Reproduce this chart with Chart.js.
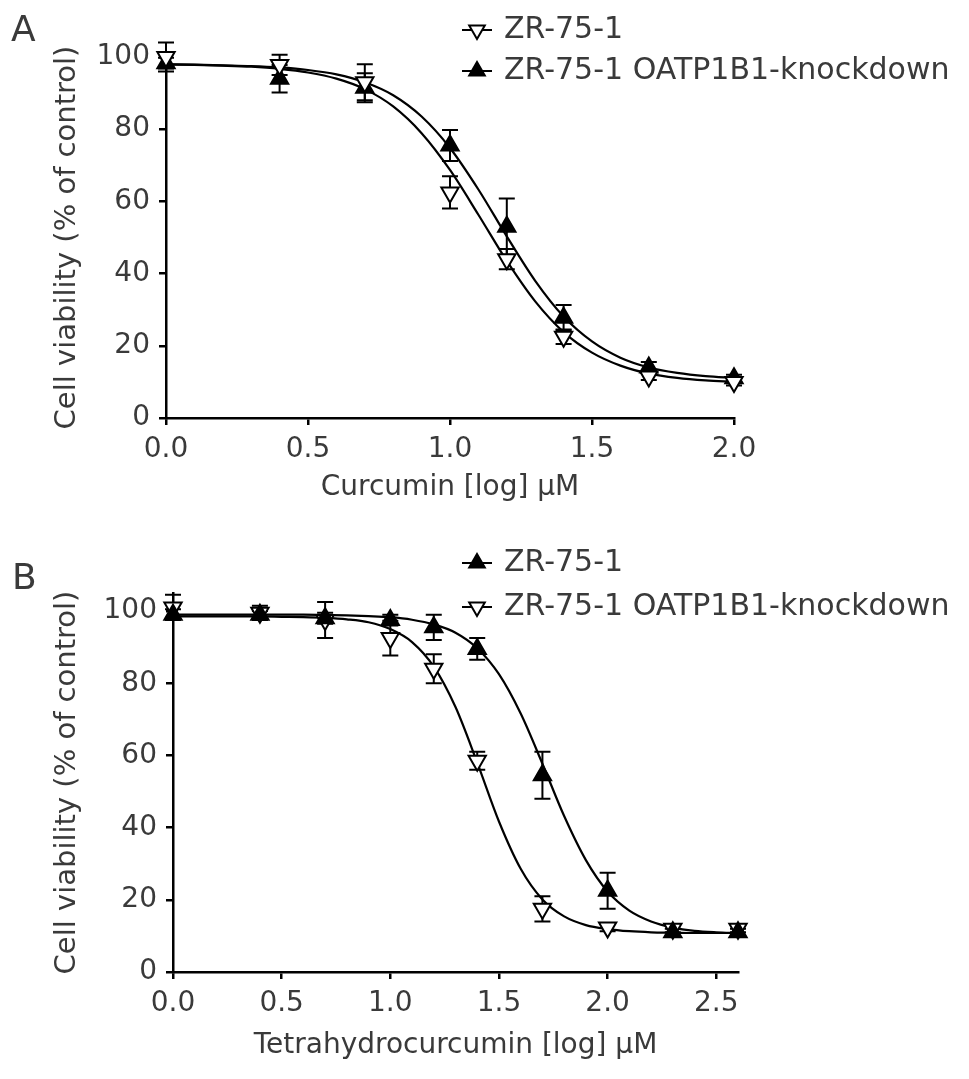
<!DOCTYPE html>
<html>
<head>
<meta charset="utf-8">
<script src="https://cdn.jsdelivr.net/npm/chart.js@4.4.1/dist/chart.umd.min.js"></script>
<style>
  html, body { margin: 0; padding: 0; background: #fff; }
  #wrap { position: relative; width: 969px; height: 1079px; }
  canvas { position: absolute; left: 0; }
  #panelA { top: 0; }
  #panelB { top: 530px; }
</style>
</head>
<body>
<div id="wrap">
  <canvas id="panelA" width="969" height="530"></canvas>
  <canvas id="panelB" width="969" height="549"></canvas>
</div>
<script>
// ---- Panel A: curcumin ----
const doseA = [0, 0.4, 0.7, 1.0, 1.2, 1.4, 1.7, 2.0];
const zrA = [100, 97.8, 93, 62.5, 44, 22.5, 11.5, 10];
const zrErrA = [4, 2.8, 5, 4.5, 2.8, 2, 1, 1];
const kdA = [98.3, 94, 91.5, 75.5, 53, 27.8, 14, 11];
const kdErrA = [1.5, 3.8, 4, 4.3, 7.8, 3.5, 1.5, 1];

// fitted curves, every 0.1 log units
const fitDoseA = [0.0, 0.1, 0.2, 0.3, 0.4, 0.5, 0.6, 0.7, 0.8, 0.9, 1.0,
                  1.1, 1.2, 1.3, 1.4, 1.5, 1.6, 1.7, 1.8, 1.9, 2.0];
const zrFitA = [97.9, 97.8, 97.6, 97.3, 96.7, 95.7, 94.0, 91.1, 86.3, 78.9, 68.7,
                56.3, 43.5, 32.3, 23.8, 18.1, 14.5, 12.3, 11.1, 10.4, 10.0];
const kdFitA = [98.0, 97.9, 97.7, 97.5, 97.1, 96.4, 95.2, 93.0, 89.4, 83.5, 74.8,
                63.3, 50.3, 38.0, 28.1, 21.2, 16.7, 14.0, 12.5, 11.6, 11.1];

// ---- Panel B: tetrahydrocurcumin ----
const doseB = [0, 0.4, 0.7, 1.0, 1.2, 1.4, 1.7, 2.0, 2.3, 2.6];
const zrB = [99, 99, 98, 97.5, 95.5, 89.5, 54.5, 22.5, 11, 11];
const zrErrB = [1.5, 1, 1.5, 1.5, 3.5, 3, 6.5, 5, 1, 1];
const kdB = [101, 99.5, 97.5, 92.5, 84, 58.5, 17.5, 12.3, 12, 12];
const kdErrB = [3.5, 2, 5, 4.8, 4, 2.5, 3.5, 1, 1, 1];

const fitDoseB = [0.0, 0.1, 0.2, 0.3, 0.4, 0.5, 0.6, 0.7, 0.8, 0.9, 1.0, 1.1, 1.2, 1.3,
                  1.4, 1.5, 1.6, 1.7, 1.8, 1.9, 2.0, 2.1, 2.2, 2.3, 2.4, 2.5, 2.6];
const zrFitB = [99.0, 99.0, 99.0, 99.0, 99.0, 99.0, 99.0, 98.9, 98.8, 98.6, 98.3, 97.6, 96.3, 94.0,
                89.7, 82.5, 71.6, 57.7, 43.2, 31.0, 22.3, 17.0, 14.0, 12.3, 11.4, 11.0, 10.8];
const kdFitB = [98.5, 98.5, 98.5, 98.5, 98.5, 98.4, 98.3, 98.1, 97.7, 96.9, 95.0, 91.4, 84.6, 73.4,
                58.0, 41.7, 28.6, 20.1, 15.4, 13.0, 11.9, 11.3, 11.0, 10.9, 10.8, 10.8, 10.8];

// ---- ticks ----
const yTicks = [0, 20, 40, 60, 80, 100];
const xTicksA = [0, 0.5, 1.0, 1.5, 2.0];
const xTicksB = [0, 0.5, 1.0, 1.5, 2.0, 2.5];

const BLACK = '#000';
const TEXT = '#3a3a3a';
const FONT = "'DejaVu Sans', sans-serif";

Chart.defaults.font.family = FONT;
Chart.defaults.font.size = 28;
Chart.defaults.color = TEXT;

const openDown = { pointStyle: 'triangle', rotation: 180, fill: '#fff' };
const filledUp = { pointStyle: 'triangle', rotation: 0, fill: '#000' };

function pts(xs, ys) {
    return xs.map((x, i) => ({ x: x, y: ys[i] }));
}

function pointSet(label, xs, ys, errs, style) {
    return {
        label: label,
        data: pts(xs, ys),
        errors: errs,
        showLine: false,
        pointStyle: style.pointStyle,
        pointRotation: style.rotation,
        pointBackgroundColor: style.fill,
        pointBorderColor: BLACK,
        pointBorderWidth: 2,
        pointRadius: 10,
        clip: false,
        order: 0
    };
}

function curveSet(xs, ys) {
    return {
        data: pts(xs, ys),
        showLine: true,
        borderColor: BLACK,
        borderWidth: 2.2,
        pointRadius: 0,
        cubicInterpolationMode: 'monotone',
        fill: false,
        clip: false,
        order: 1
    };
}

// error bars drawn under the markers, through the y scale
const errorBars = {
    id: 'errorBars',
    beforeDatasetsDraw(chart) {
        const ctx = chart.ctx;
        const yScale = chart.scales.y;
        ctx.save();
        ctx.strokeStyle = BLACK;
        ctx.lineWidth = 2;
        chart.data.datasets.forEach((ds, i) => {
            if (!ds.errors) return;
            chart.getDatasetMeta(i).data.forEach((pt, j) => {
                const v = ds.data[j].y;
                const e = ds.errors[j];
                const top = yScale.getPixelForValue(v + e);
                const bot = yScale.getPixelForValue(v - e);
                ctx.beginPath();
                ctx.moveTo(pt.x, top); ctx.lineTo(pt.x, bot);
                ctx.moveTo(pt.x - 8, top); ctx.lineTo(pt.x + 8, top);
                ctx.moveTo(pt.x - 8, bot); ctx.lineTo(pt.x + 8, bot);
                ctx.stroke();
            });
        });
        ctx.restore();
    }
};

// panel letter + legend with the line-through markers
const decorations = {
    id: 'decorations',
    afterDraw(chart, args, opts) {
        const ctx = chart.ctx;
        ctx.save();
        ctx.textAlign = 'left';
        ctx.textBaseline = 'middle';
        ctx.fillStyle = TEXT;
        ctx.font = '36px ' + FONT;
        ctx.fillText(opts.letter, opts.letterX, opts.letterY);

        ctx.font = '30px ' + FONT;
        opts.rows.forEach(r => {
            ctx.strokeStyle = BLACK;
            ctx.lineWidth = 2;
            ctx.beginPath();
            ctx.moveTo(opts.markX - 15, r.y);
            ctx.lineTo(opts.markX + 15, r.y);
            ctx.stroke();
            ctx.fillStyle = r.style.fill;
            Chart.helpers.drawPoint(ctx, {
                pointStyle: r.style.pointStyle,
                rotation: r.style.rotation,
                radius: 9,
                borderWidth: 2
            }, opts.markX, r.y);
            ctx.fillStyle = TEXT;
            ctx.fillText(r.text, opts.textX, r.y);
        });
        ctx.restore();
    }
};

function buildScales(p) {
    return {
        x: {
            type: 'linear',
            min: 0,
            max: p.xMax,
            afterBuildTicks: s => { s.ticks = p.xTicks.map(v => ({ value: v })); },
            afterFit: s => { s.height = p.xAxisH; },
            ticks: { callback: v => Number(v).toFixed(1), padding: 8, maxRotation: 0, autoSkip: false },
            grid: { drawOnChartArea: false, color: BLACK, lineWidth: 2.5, tickLength: 7 },
            border: { color: BLACK, width: 2.5 },
            title: { display: true, text: p.xTitle, padding: { top: 0, bottom: p.xTitlePad } }
        },
        y: {
            type: 'linear',
            min: 0,
            max: p.yMax,
            afterBuildTicks: s => { s.ticks = yTicks.map(v => ({ value: v })); },
            afterFit: s => { s.width = p.yAxisW; },
            ticks: { padding: 9, autoSkip: false },
            grid: { drawOnChartArea: false, color: BLACK, lineWidth: 2.5, tickLength: 7 },
            border: { color: BLACK, width: 2.5 },
            title: { display: true, text: 'Cell viability (% of control)', font: { size: 29 }, padding: { top: 50, bottom: 0 } }
        }
    };
}

function makePanel(id, p) {
    return new Chart(document.getElementById(id), {
        type: 'scatter',
        data: { datasets: p.datasets },
        options: {
            responsive: false,
            animation: false,
            layout: { padding: p.padding },
            scales: buildScales(p),
            plugins: {
                legend: { display: false },
                tooltip: { enabled: false },
                decorations: p.deco
            }
        },
        plugins: [errorBars, decorations]
    });
}

makePanel('panelA', {
    datasets: [
        pointSet('ZR-75-1', doseA, zrA, zrErrA, openDown),
        pointSet('ZR-75-1 OATP1B1-knockdown', doseA, kdA, kdErrA, filledUp),
        curveSet(fitDoseA, zrFitA),
        curveSet(fitDoseA, kdFitA)
    ],
    xMax: 2.0, xTicks: xTicksA, yMax: 100,
    xTitle: 'Curcumin [log] \u03bcM',
    xAxisH: 112, yAxisW: 166, xTitlePad: 25,
    padding: { top: 57, right: 235, left: 0, bottom: 0 },
    deco: {
        letter: 'A', letterX: 11, letterY: 32,
        markX: 477, textX: 504,
        rows: [
            { text: 'ZR-75-1', style: openDown, y: 30 },
            { text: 'ZR-75-1 OATP1B1-knockdown', style: filledUp, y: 71 }
        ]
    }
});

makePanel('panelB', {
    datasets: [
        pointSet('ZR-75-1', doseB, zrB, zrErrB, filledUp),
        pointSet('ZR-75-1 OATP1B1-knockdown', doseB, kdB, kdErrB, openDown),
        curveSet(fitDoseB, zrFitB),
        curveSet(fitDoseB, kdFitB)
    ],
    xMax: 2.6, xTicks: xTicksB, yMax: 105,
    xTitle: 'Tetrahydrocurcumin [log] \u03bcM',
    xAxisH: 107, yAxisW: 173, xTitlePad: 16,
    padding: { top: 63, right: 231, left: 0, bottom: 0 },
    deco: {
        letter: 'B', letterX: 12, letterY: 50,
        markX: 477, textX: 504,
        rows: [
            { text: 'ZR-75-1', style: filledUp, y: 33 },
            { text: 'ZR-75-1 OATP1B1-knockdown', style: openDown, y: 77 }
        ]
    }
});
</script>
</body>
</html>
